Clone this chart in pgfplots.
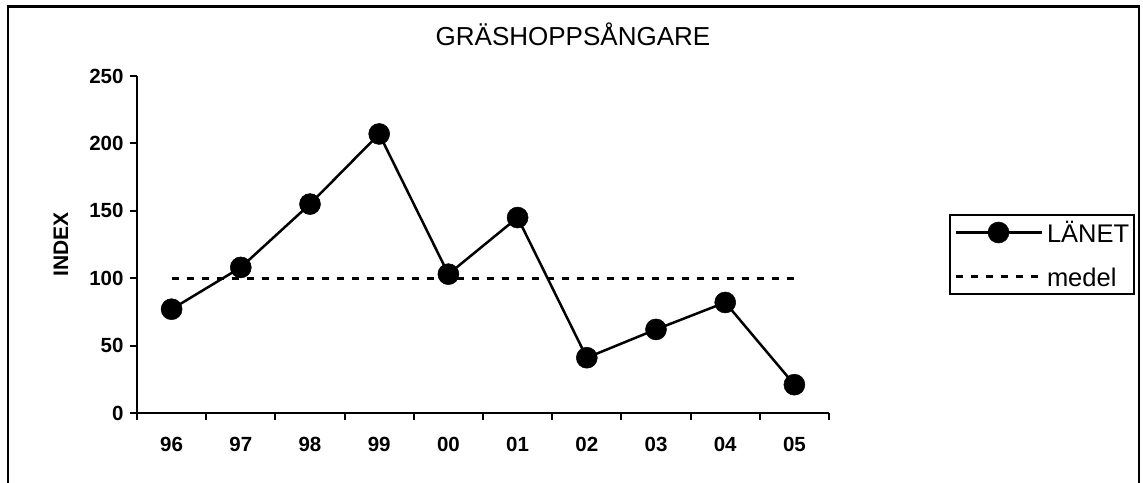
\documentclass[border=0pt]{standalone}
\usepackage{pgfplots}
\pgfplotsset{compat=1.18}
\usepackage{fontspec}
\setmainfont{Liberation Sans}

\begin{document}
\begin{tikzpicture}[x=1pt,y=1pt]
\useasboundingbox (-137,-69) rectangle (1006,413);
\draw[line width=2.5pt] (-129,-90) -- (-129,406.5) -- (1002,406.5) -- (1002,-90);
\begin{axis}[
  at={(0pt,0pt)}, anchor=south west,
  scale only axis, width=692pt, height=337pt,
  xmin=-0.5, xmax=9.5, ymin=0, ymax=250,
  axis x line=bottom, axis y line=left,
  axis line style={-, line width=2pt, black},
  xtick={-0.5,0.5,...,9.5},
  xticklabels={96,97,98,99,00,01,02,03,04,05},
  x tick label as interval,
  ytick={0,50,...,250},
  tick align=outside, major tick length=7pt,
  tick style={line width=2pt, black},
  ticklabel style={font=\fontsize{20.5}{24}\selectfont\bfseries},
  xticklabel style={yshift=-14pt},
  yticklabel style={xshift=-3pt},
  /pgf/number format/assume math mode=true,
  ylabel={INDEX},
  ylabel style={font=\fontsize{21}{24}\selectfont\bfseries, at={(axis description cs:-0.1098,0.5)}, anchor=center},
  title={GRÄSHOPPSÅNGARE},
  title style={font=\fontsize{26}{28}\selectfont, at={(axis description cs:0.630,1.106)}, anchor=center},
  clip=false,
  reverse legend,
  legend style={at={(axis description cs:1.1734,0.5905)}, anchor=north west,
    draw=black, line width=2pt, inner xsep=4pt, inner ysep=0pt, row sep=9pt,
    /tikz/column sep=3pt,
    font=\fontsize{25.5}{28}\selectfont,
    nodes={inner sep=1pt, text height=26.5pt, text depth=6.5pt, font=\fontsize{25.5}{28}\selectfont}},
  legend cell align=left,
  legend image code/.code={\draw[mark repeat=2,mark phase=2,#1] plot coordinates {(0pt,0pt) (43pt,0pt) (86pt,0pt)};},
]
\addplot[black, line width=3pt, dash pattern=on 7pt off 8pt] coordinates {(0,100) (9,100)};
\addlegendentry{medel}
\addplot[black, line width=2.5pt, mark=*, mark size=10.5pt, mark options={solid, fill=black, line width=0.5pt}] coordinates {
(0,77) (1,108) (2,155) (3,207) (4,103) (5,145) (6,41) (7,62) (8,82) (9,21)};
\addlegendentry{LÄNET}
\end{axis}
\end{tikzpicture}
\end{document}
